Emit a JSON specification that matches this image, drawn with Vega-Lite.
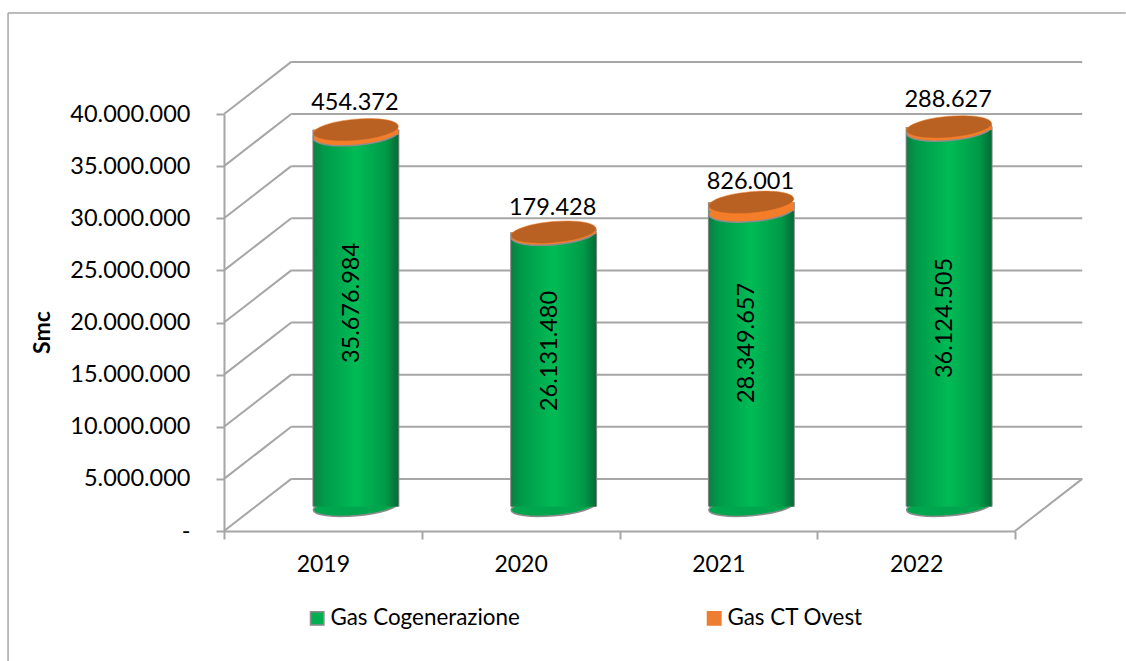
{
"$schema":"https://vega.github.io/schema/vega-lite/v6.json",
"width":791,"height":417,"autosize":{"type":"none"},
"padding":{"left":224,"top":114,"right":111,"bottom":130},
"background":"white",
"config":{"view":{"stroke":null},"font":"Lato","text":{"font":"Lato"}},
"datasets":{
"grid":[
{"part":"frame","a":-1.092,"b":4.56,"v":49690000,"w":49690000},
{"part":"frame","a":-1.092,"b":-1.092,"v":-12470000,"w":49690000},
{"part":"wall","a":0.34,"b":4.34,"v":5000000,"w":5000000},
{"part":"wall","a":0.34,"b":4.34,"v":10000000,"w":10000000},
{"part":"wall","a":0.34,"b":4.34,"v":15000000,"w":15000000},
{"part":"wall","a":0.34,"b":4.34,"v":20000000,"w":20000000},
{"part":"wall","a":0.34,"b":4.34,"v":25000000,"w":25000000},
{"part":"wall","a":0.34,"b":4.34,"v":30000000,"w":30000000},
{"part":"wall","a":0.34,"b":4.34,"v":35000000,"w":35000000},
{"part":"wall","a":0.34,"b":4.34,"v":40000000,"w":40000000},
{"part":"wall","a":0.34,"b":4.34,"v":45000000,"w":45000000},
{"part":"side","a":0,"b":0.34,"v":0,"w":5000000},
{"part":"side","a":0,"b":0.34,"v":5000000,"w":10000000},
{"part":"side","a":0,"b":0.34,"v":10000000,"w":15000000},
{"part":"side","a":0,"b":0.34,"v":15000000,"w":20000000},
{"part":"side","a":0,"b":0.34,"v":20000000,"w":25000000},
{"part":"side","a":0,"b":0.34,"v":25000000,"w":30000000},
{"part":"side","a":0,"b":0.34,"v":30000000,"w":35000000},
{"part":"side","a":0,"b":0.34,"v":35000000,"w":40000000},
{"part":"side","a":0,"b":0.34,"v":40000000,"w":45000000},
{"part":"side","a":4,"b":4.34,"v":0,"w":5000000}
],
"gas":[
{"year":"2019","series":"Gas Cogenerazione","value":35676984,"order":1,"labelAt":19520000},
{"year":"2019","series":"Gas CT Ovest","value":454372,"order":2,"labelAt":38700000},
{"year":"2020","series":"Gas Cogenerazione","value":26131480,"order":1,"labelAt":14920000},
{"year":"2020","series":"Gas CT Ovest","value":179428,"order":2,"labelAt":28630000},
{"year":"2021","series":"Gas Cogenerazione","value":28349657,"order":1,"labelAt":15680000},
{"year":"2021","series":"Gas CT Ovest","value":826001,"order":2,"labelAt":31120000},
{"year":"2022","series":"Gas Cogenerazione","value":36124505,"order":1,"labelAt":18080000},
{"year":"2022","series":"Gas CT Ovest","value":288627,"order":2,"labelAt":39000000}
]
},
"resolve":{"scale":{"x":"independent"},"axis":{"x":"independent"}},
"layer":[
{
"data":{"name":"grid"},
"encoding":{
"x":{"field":"a","type":"quantitative","scale":{"domain":[0,4],"nice":false,"zero":false},"axis":null},
"x2":{"field":"b"},
"y":{"field":"v","type":"quantitative","scale":{"domain":[0,40000000],"nice":false},
"axis":{"values":[0,5000000,10000000,15000000,20000000,25000000,30000000,35000000,40000000],
"labelExpr":"datum.value===0?'-':replace(format(datum.value,',.0f'),/,/g,'.')",
"grid":false,"domainColor":"#a6a6a6","domainWidth":2,"tickColor":"#a6a6a6","tickWidth":2,"tickSize":8,
"labelFont":"Lato","labelFontSize":23.5,"labelColor":"#000","labelPadding":26,
"title":"Smc","titleFont":"Lato","titleFontSize":23,"titleFontWeight":"bold","titleColor":"#000","titleX":-170,"titleY":218,"titleAngle":270}},
"y2":{"field":"w"}
},
"layer":[
{
"transform":[{"filter":"datum.part!=='frame'"}],
"mark":{"type":"rule","stroke":"#a6a6a6","strokeWidth":2,"clip":false}
},
{
"transform":[{"filter":"datum.part==='frame'"}],
"mark":{"type":"rule","stroke":"#a6a6a6","strokeWidth":1.5,"clip":false}
}
]
},
{
"data":{"name":"gas"},
"transform":[
{"stack":"value","groupby":["year"],"sort":[{"field":"order","order":"ascending"}],"as":["v0","v1"]},
{"calculate":"replace(format(datum.value,',.0f'),/,/g,'.')","as":"label"}
],
"encoding":{
"x":{"field":"year","type":"nominal","scale":{"type":"band","paddingInner":0,"paddingOuter":0},
"axis":{"title":null,"labelAngle":0,"tickBand":"extent","domainColor":"#a6a6a6","domainWidth":2,"tickColor":"#a6a6a6","tickWidth":2,"tickSize":8,"labelFont":"Lato","labelFontSize":23,"labelColor":"#000","labelPadding":14}}
},
"layer":[
{"mark":{"type":"bar","size":85,"xOffset":33,"x2Offset":33,"yOffset":-24.5,"y2Offset":-24.5},
"encoding":{
"y":{"field":"v0","type":"quantitative","scale":{"domain":[0,40000000],"nice":false}},"y2":{"field":"v1"},
"color":{"field":"series","type":"nominal","scale":{"domain":["Gas Cogenerazione","Gas CT Ovest"],"range":["#00b050","#ed7d31"]},
"legend":{"title":null,"orient":"none","legendX":82,"legendY":493,"direction":"horizontal","columns":2,"columnPadding":183,"symbolType":"square","symbolSize":180,"symbolStrokeWidth":1.5,"labelFont":"Lato","labelFontSize":22.4,"labelColor":"#000","labelOffset":2,"labelLimit":400,
"encode":{"symbols":{"update":{"stroke":{"signal":"datum.value==='Gas Cogenerazione'?'#8c8c8c':'#ed7d31'"}}}}}}
}},
{"mark":{"type":"bar","size":87,"color":"#8c8c8c","xOffset":33,"x2Offset":33,"yOffset":-24.5,"y2Offset":-24.5},
"encoding":{"y":{"field":"v0","type":"quantitative"},"y2":{"field":"v1"}}},
{"transform":[{"filter":"datum.series==='Gas Cogenerazione'"}],
"mark":{"type":"point","filled":true,"shape":"M-1,0.085 A1,0.215 -5 1 0 1,-0.085 A1,0.215 -5 1 0 -1,0.085 Z","size":7225,"opacity":1,"fill":"#00a64e","stroke":"#8c8c8c","strokeWidth":1.5,"xOffset":33,"yOffset":-24.5},
"encoding":{"y":{"field":"v0","type":"quantitative"}}},
{"transform":[{"filter":"datum.series==='Gas Cogenerazione'"}],
"mark":{"type":"bar","size":85,"xOffset":33,"x2Offset":33,"yOffset":-24.5,"y2Offset":-24.5,
"fill":{"gradient":"linear","x1":0,"x2":1,"y1":0,"y2":0,"stops":[{"offset":0,"color":"#0b7f42"},{"offset":0.12,"color":"#009a4a"},{"offset":0.5,"color":"#00bb55"},{"offset":0.85,"color":"#009a48"},{"offset":1,"color":"#066b35"}]}},
"encoding":{"y":{"field":"v0","type":"quantitative"},"y2":{"field":"v1"}}},
{"transform":[{"filter":"datum.series==='Gas CT Ovest'"}],
"mark":{"type":"point","filled":true,"shape":"M-1,0.085 A1,0.25 -5 1 0 1,-0.085 A1,0.25 -5 1 0 -1,0.085 Z","size":7225,"opacity":1,"fill":"#f47d2a","stroke":"#8c8c8c","strokeWidth":1.5,"xOffset":33,"yOffset":-24.5},
"encoding":{"y":{"field":"v0","type":"quantitative"}}},
{"transform":[{"filter":"datum.series==='Gas CT Ovest'"}],
"mark":{"type":"bar","size":85,"fill":"#f47d2a","xOffset":33,"x2Offset":33,"yOffset":-24.5,"y2Offset":-24.5},
"encoding":{"y":{"field":"v0","type":"quantitative"},"y2":{"field":"v1"}}},
{"transform":[{"filter":"datum.series==='Gas CT Ovest'"}],
"mark":{"type":"point","filled":true,"shape":"M-1,0.085 A1,0.25 -5 1 0 1,-0.085 A1,0.25 -5 1 0 -1,0.085 Z","size":7225,"opacity":1,"fill":"#b96122","stroke":"#f47d2a","strokeWidth":0.5,"xOffset":33,"yOffset":-24.5},
"encoding":{"y":{"field":"v1","type":"quantitative"}}},
{"transform":[{"filter":"datum.series==='Gas Cogenerazione'"}],
"mark":{"type":"text","angle":270,"baseline":"middle","align":"center","fontSize":23.5,"font":"Lato","color":"#000","xOffset":29,"yOffset":-24.5},
"encoding":{"y":{"field":"labelAt","type":"quantitative"},"text":{"field":"label"}}},
{"transform":[{"filter":"datum.series==='Gas CT Ovest'"}],
"mark":{"type":"text","baseline":"middle","align":"center","fontSize":23.5,"font":"Lato","color":"#000","xOffset":32,"yOffset":-24.5},
"encoding":{"y":{"field":"labelAt","type":"quantitative"},"text":{"field":"label"}}}
]
}
]
}
